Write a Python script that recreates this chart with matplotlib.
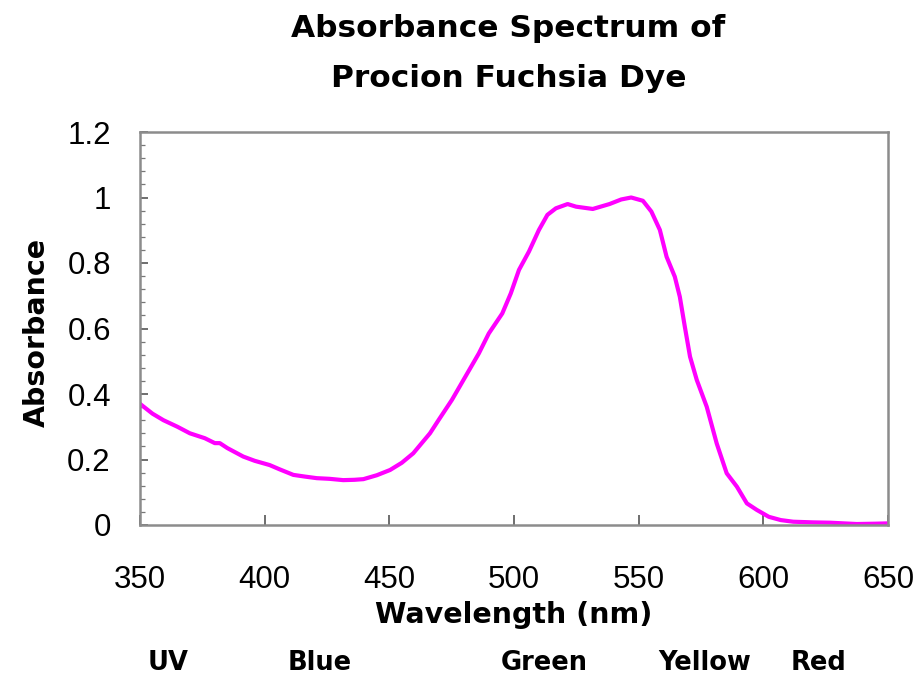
import matplotlib
matplotlib.use("Agg")
import matplotlib.pyplot as plt
from matplotlib.ticker import MultipleLocator
from matplotlib.transforms import blended_transform_factory

wavelength = [350, 355, 359.4, 365, 370, 376, 380, 382, 385, 391.4, 396, 402, 406, 411.5,
              416, 420.9, 426, 431.5, 436, 439.6, 445, 450.3, 455, 459.6, 463, 466.3,
              469.8, 475.1, 480.5, 485.9, 489.9, 495.3, 498.7, 502, 506, 510, 513.4,
              516.8, 521.5, 524.9, 531.6, 538.3, 543, 547, 551.7, 555.1, 558.5, 561.2,
              564.5, 566.5, 568.5, 570.6, 573.3, 577.3, 581.3, 585.3, 589.4, 593.4,
              597.4, 602.2, 607, 612, 620, 626.8, 637.5, 645, 650]
absorbance = [0.37, 0.34, 0.32, 0.30, 0.28, 0.265, 0.25, 0.25, 0.235, 0.209, 0.196, 0.183,
              0.17, 0.153, 0.148, 0.143, 0.141, 0.137, 0.138, 0.14, 0.152, 0.168, 0.19,
              0.219, 0.25, 0.28, 0.321, 0.382, 0.453, 0.524, 0.585, 0.646, 0.707, 0.779,
              0.835, 0.901, 0.947, 0.967, 0.980, 0.972, 0.965, 0.980, 0.994, 1.0, 0.99,
              0.957, 0.901, 0.819, 0.758, 0.697, 0.606, 0.514, 0.443, 0.361, 0.249,
              0.158, 0.117, 0.066, 0.046, 0.025, 0.015, 0.01, 0.008, 0.007, 0.003,
              0.004, 0.005]

x_ticks = [350, 400, 450, 500, 550, 600, 650]
y_ticks = [0, 0.2, 0.4, 0.6, 0.8, 1.0, 1.2]
y_tick_labels = ['0', '0.2', '0.4', '0.6', '0.8', '1', '1.2']

color_names = ['UV', 'Blue', 'Green', 'Yellow', 'Red']
color_name_x = [361.2, 422.2, 512, 576.4, 622]

title_lines = ['Absorbance Spectrum of', 'Procion Fuchsia Dye']

tick_font = ['Liberation Sans', 'DejaVu Sans']
bold_font = ['DejaVu Sans']

fig = plt.figure(figsize=(9.18, 6.76), dpi=100)
ax = fig.add_axes([140 / 918, 1 - 525 / 676, 748 / 918, 393 / 676])

ax.plot(wavelength, absorbance, color='#FF00FF', linewidth=3.0, solid_joinstyle='round')

ax.set_xlim(350, 650)
ax.set_ylim(0, 1.2)
ax.set_xticks(x_ticks)
ax.set_xticklabels([str(v) for v in x_ticks], family=tick_font)
ax.set_yticks(y_ticks)
ax.set_yticklabels(y_tick_labels, family=tick_font)
ax.yaxis.set_minor_locator(MultipleLocator(0.04))

ax.tick_params(axis='x', direction='in', length=7, width=1.2, color='#555555',
               labelsize=22.5, pad=28.5)
ax.tick_params(axis='y', which='major', direction='in', length=6, width=1.2, color='#555555',
               labelsize=22.5, pad=21)
ax.tick_params(axis='y', which='minor', direction='in', length=3.5, width=0.9, color='#777777')

for side, sp in ax.spines.items():
    sp.set_color('#8c8c8c')
    sp.set_linewidth(1.8)

xl = ax.set_xlabel('Wavelength (nm)', fontsize=20.5, fontweight='bold', family=bold_font)
xl.set_va('baseline')
ax.xaxis.set_label_coords(0.5 - 0 / 748, -(623 - 525) / 393)

ax.set_ylabel('Absorbance', fontsize=20.5, fontweight='bold', family=bold_font)
ax.yaxis.set_label_coords(-(140 - 51) / 748, 0.49)

for i, line in enumerate(title_lines):
    fig.text(508.5 / 918, 1 - (37 + 50 * i) / 676, line, ha='center', va='baseline',
             fontsize=22.5, fontweight='bold', family=bold_font)

trans = blended_transform_factory(ax.transData, fig.transFigure)
for name, xpos in zip(color_names, color_name_x):
    ax.text(xpos, 1 - 670 / 676, name, transform=trans, ha='center', va='baseline',
            fontsize=18.5, fontweight='bold', family=bold_font)

fig.savefig('out.png', dpi=100)
